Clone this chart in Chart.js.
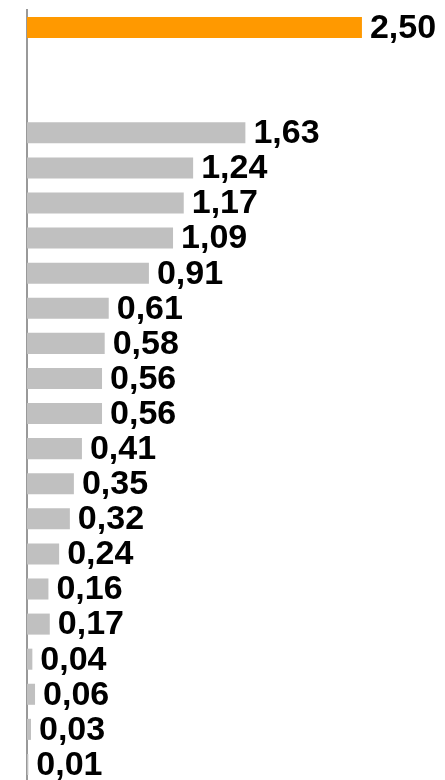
<!DOCTYPE html>
<html>
<head>
<meta charset="utf-8">
<script src="https://cdn.jsdelivr.net/npm/chart.js@4"></script>
<style>
  html, body { margin: 0; padding: 0; background: #ffffff; overflow: hidden; }
  #wrap { width: 445px; height: 790px; }
</style>
</head>
<body>
<div id="wrap"><canvas id="c" width="445" height="790" style="width:445px;height:790px"></canvas></div>
<script>
const categories = ["Total", "", " ", "C1", "C2", "C3", "C4", "C5", "C6", "C7", "C8", "C9", "C10", "C11", "C12", "C13", "C14", "C15", "C16", "C17", "C18", "C19"];
const values = [2.50, null, null, 1.63, 1.24, 1.17, 1.09, 0.91, 0.61, 0.58, 0.56, 0.56, 0.41, 0.35, 0.32, 0.24, 0.16, 0.17, 0.04, 0.06, 0.03, 0.01];
const highlightColor = "#FF9900";
const barColor = "#C0C0C0";
const colors = values.map((v, i) => i === 0 ? highlightColor : barColor);

const valueLabels = {
  id: 'valueLabels',
  afterDatasetsDraw(chart) {
    const ctx = chart.ctx;
    const meta = chart.getDatasetMeta(0);
    ctx.save();
    ctx.font = 'bold 34px "Liberation Sans", Arial, sans-serif';
    ctx.fillStyle = '#000000';
    ctx.textAlign = 'left';
    ctx.textBaseline = 'middle';
    meta.data.forEach((bar, i) => {
      const v = values[i];
      if (v === null || v === undefined) return;
      ctx.fillText(v.toFixed(2).replace('.', ','), bar.x + 8, bar.y + 1);
    });
    ctx.restore();
  }
};

new Chart(document.getElementById('c'), {
  type: 'bar',
  data: {
    labels: categories,
    datasets: [{
      data: values,
      backgroundColor: colors,
      borderWidth: 0,
      barPercentage: 0.6,
      categoryPercentage: 1.0
    }]
  },
  options: {
    indexAxis: 'y',
    responsive: false,
    animation: false,
    devicePixelRatio: 1,
    layout: { padding: { left: 27, right: 0, top: 10, bottom: 8 } },
    plugins: { legend: { display: false }, tooltip: { enabled: false } },
    scales: {
      x: {
        display: false,
        min: 0,
        max: 3.12
      },
      y: {
        grid: { display: false, drawTicks: false },
        ticks: { display: false },
        border: { display: true, color: '#999999', width: 2 }
      }
    }
  },
  plugins: [valueLabels]
});
</script>
</body>
</html>
